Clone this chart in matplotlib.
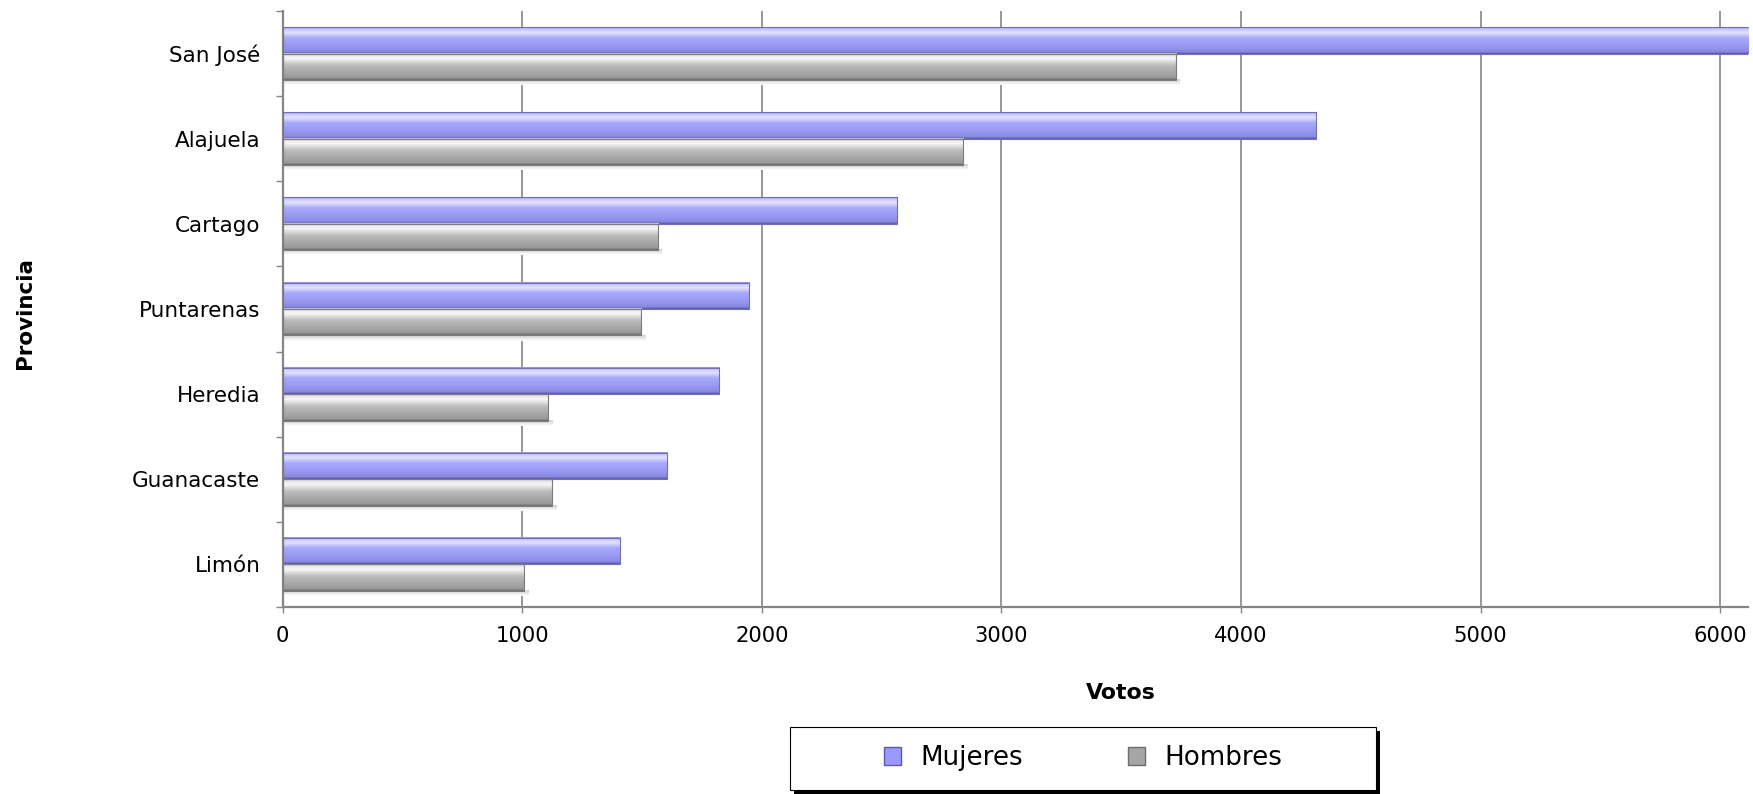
import numpy as np
import matplotlib
matplotlib.use("Agg")
import matplotlib.pyplot as plt
from matplotlib.colors import LinearSegmentedColormap
from matplotlib.patches import Rectangle, Patch

provincias = ['San José', 'Alajuela', 'Cartago', 'Puntarenas', 'Heredia', 'Guanacaste', 'Limón']
mujeres = [6250, 4311, 2563, 1946, 1823, 1606, 1410]
hombres = [3728, 2840, 1566, 1496, 1109, 1125, 1008]
xticks = [0, 1000, 2000, 3000, 4000, 5000, 6000]

plt.rcParams['font.family'] = ['DejaVu Sans']

fig = plt.figure(figsize=(17.53, 7.94), dpi=100)
ax = fig.add_axes([0.1612, 0.2355, 0.836, 0.7506])

# vertical gradients to imitate the glossy Excel bars
cm_m = LinearSegmentedColormap.from_list('m', [(0, '#8c8ce0'), (0.06, '#c4c4ff'), (0.2, '#e4e4ff'),
                                               (0.4, '#a9a9fb'), (0.75, '#9696f0'), (0.92, '#8a8ae2'),
                                               (1, '#5a5aa6')])
cm_h = LinearSegmentedColormap.from_list('h', [(0, '#bdbdbd'), (0.06, '#e6e6e6'), (0.2, '#f6f6f6'),
                                               (0.45, '#bcbcbc'), (0.75, '#a6a6a6'), (0.92, '#9a9a9a'),
                                               (1, '#6c6c6c')])
grad = np.linspace(0, 1, 64).reshape(-1, 1)
shadow = np.linspace(0, 1, 16).reshape(-1, 1)
cm_s = LinearSegmentedColormap.from_list('s', ['#cfcfcf', '#ffffff'])

bh = 0.31
n = len(provincias)
pos = np.arange(n)[::-1]

for p, m, h in zip(pos, mujeres, hombres):
    # soft shadow under the lower bar
    ax.imshow(shadow, cmap=cm_s, extent=(0, h + 15, p - bh - 0.06, p - bh), aspect='auto',
              interpolation='bilinear', zorder=1.5)
    ax.imshow(grad, cmap=cm_m, extent=(0, m, p, p + bh), aspect='auto',
              interpolation='bilinear', zorder=2)
    ax.imshow(grad, cmap=cm_h, extent=(0, h, p - bh, p), aspect='auto',
              interpolation='bilinear', zorder=2)
    ax.add_patch(Rectangle((0, p), m, bh, fill=False, ec='#6f6fb8', lw=0.8, zorder=3))
    ax.add_patch(Rectangle((0, p - bh), h, bh, fill=False, ec='#7c7c7c', lw=0.8, zorder=3))

ax.set_xlim(0, 6116)
ax.set_ylim(-0.5, n - 0.5)

ax.set_xticks(xticks)
ax.set_xticklabels([str(v) for v in xticks])
ax.set_yticks(np.arange(-0.5, n, 1))
ax.set_yticklabels([])
ax.set_yticks(pos, minor=True)
ax.set_yticklabels(provincias, minor=True)

ax.tick_params(axis='x', direction='out', length=4.5, width=1, color='#868686',
               labelsize=15.2, pad=9.5)
ax.tick_params(axis='y', which='major', direction='out', length=5, width=1, color='#868686')
ax.tick_params(axis='y', which='minor', length=0, labelsize=15.5, pad=16)

ax.set_axisbelow(True)
ax.grid(axis='x', color='#868686', lw=1.2, zorder=0.5)
for s in ['top', 'right']:
    ax.spines[s].set_visible(False)
for s in ['left', 'bottom']:
    ax.spines[s].set_color('#868686')
    ax.spines[s].set_linewidth(1.6)

fig.text(0.6395, 0.1272, 'Votos', ha='center', va='center', fontsize=15.8, fontweight='bold')
fig.text(0.0143, 0.6058, 'Provincia', ha='center', va='center', rotation=90,
         fontsize=15.5, fontweight='bold')

# legend box with hard black shadow
fig.patches.append(Rectangle((0.4507 + 0.0023, 0.005 - 0.005), 0.3343, 0.0794,
                             transform=fig.transFigure, fc='black', ec='none', zorder=1))
fig.patches.append(Rectangle((0.4507, 0.005), 0.3343, 0.0794,
                             transform=fig.transFigure, fc='white', ec='black', lw=0.8, zorder=2))
handles = [Patch(fc='#9999ff', ec='#5a5aa6', label='Mujeres'),
           Patch(fc='#a6a6a6', ec='#6c6c6c', label='Hombres')]
leg = fig.legend(handles=handles, loc='center', bbox_to_anchor=(0.6178, 0.0453), ncol=2,
                 frameon=False, fontsize=18.8, handlelength=0.65, handleheight=0.65,
                 handletextpad=0.75, columnspacing=4.0)
leg.set_zorder(3)

fig.savefig('out.png', dpi=100)
